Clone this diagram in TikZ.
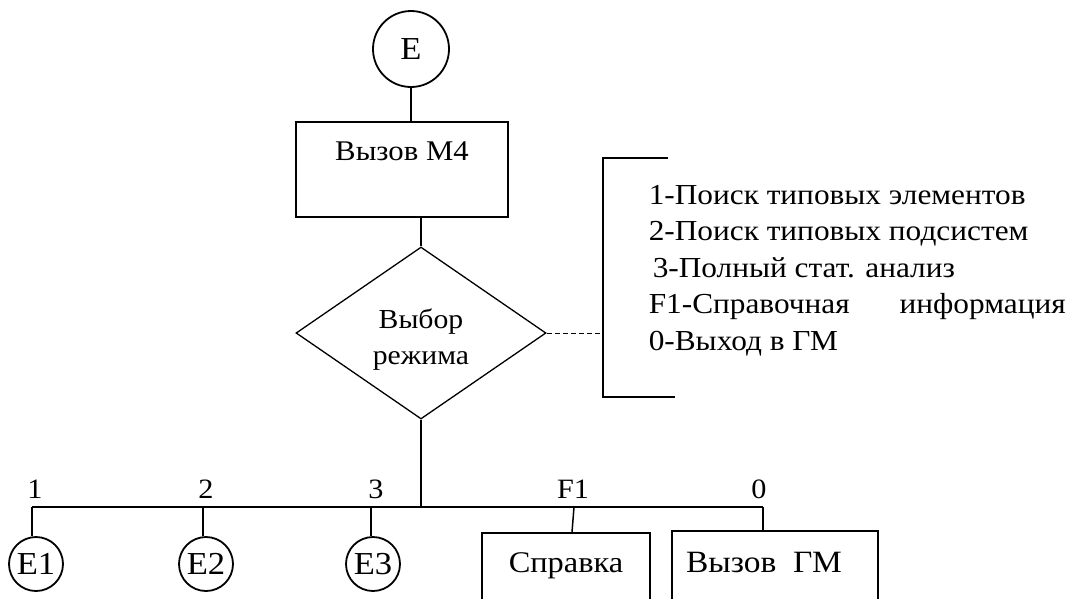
\documentclass[tikz,border=0pt]{standalone}
\usepackage{fontspec}
\setmainfont{Liberation Serif}[FakeStretch=1.08]
\usetikzlibrary{shapes.geometric}

\begin{document}
\begin{tikzpicture}[x=1pt,y=-1pt,
  line width=1.5pt,
  conn/.style={line width=1.5pt},
  bus/.style={line width=2.4pt},
  term/.style={draw,circle,inner sep=0pt,line width=1.8pt,font=\fontsize{32}{36}\selectfont},
  sub/.style={term,minimum size=54pt},
  procbox/.style={draw,rectangle,inner sep=0pt,line width=1.6pt},
  choice/.style={draw,diamond,inner sep=0pt,line width=1.3pt,
    minimum width=250pt,minimum height=172pt},
  caption/.style={anchor=base,inner sep=0pt},
  busmark/.style={anchor=base,inner sep=0pt,font=\fontsize{28}{32}\selectfont}]

\useasboundingbox (0,0) rectangle (1073,598);

% entry point and module call
\node[term,minimum size=76pt] (E) at (411,49) {E};
\node[procbox,minimum width=212pt,minimum height=95pt,
  label={[caption,yshift=-39pt,font=\fontsize{28.5}{32}\selectfont]north:Вызов М4}]
  (M4) at (402,169.5) {};

% mode selection
\node[choice,
  label={[anchor=north,inner sep=0pt,align=center,yshift=-7pt,
    font=\fontsize{27.5}{36}\selectfont]center:Выбор\\режима}]
  (sel) at (421,333) {};

\draw[conn] (E.south) -- (E.south |- M4.north);
\draw[conn] (sel.north |- M4.south) -- (sel.north);

% list of modes in a bracket
\coordinate (brT) at (603,158);
\coordinate (brB) at (603,397);
\coordinate (brM) at (603,333);
\draw[line width=1.5pt] (668,158) -- (brT) -- (brB) -- (675,397);
\draw[line width=1pt,dash pattern=on 5pt off 3pt] (sel.east) -- (brM);
\node[anchor=north west,inner sep=0pt,align=left,
  font=\fontsize{29}{36.5}\selectfont] (modes) at (648,184.5)
  {1-Поиск типовых элементов\\
   2-Поиск типовых подсистем\\
   \hspace*{4pt}3-Полный стат. анализ\\
   \makebox[417pt][l]{F1-Справочная\hfill информация}\\
   0-Выход в ГМ};

% branch bus
\coordinate (busL) at (32,507);
\coordinate (busR) at (763,507);
\draw[bus] (busL) -- (busR);
\draw[conn] (sel.south) -- (sel.south |- busL);

% branch targets
\node[sub] (E1) at (36,564) {E1};
\node[sub] (E2) at (206,564) {E2};
\node[sub] (E3) at (373,564) {E3};
\node[procbox,minimum width=168pt,minimum height=100pt,
  label={[caption,yshift=-40pt,font=\fontsize{30}{34}\selectfont]north:Справка}]
  (help) at (566,583) {};
\node[procbox,minimum width=206pt,minimum height=100pt,
  label={[caption,yshift=-42pt,xshift=-11pt,font=\fontsize{31}{34}\selectfont]north:Вызов\ \ ГМ}]
  (gm) at (775,581) {};

\draw[conn] (E1.north -| busL) -- (busL);
\draw[conn] (E2.north -| 203,0) -- (203,507);
\draw[conn] (E3.north -| 371,0) -- (371,507);
\draw[conn] (help.north -| 572,0) -- (574,507);
\draw[conn] (gm.north -| busR) -- (busR);

% branch codes
\node[busmark] (k1) at (35,498) {1};
\node[busmark] (k2) at (206,498) {2};
\node[busmark] (k3) at (376,498) {3};
\node[busmark] (kF) at (573,498) {F1};
\node[busmark] (k0) at (759,498) {0};
\end{tikzpicture}
\end{document}
